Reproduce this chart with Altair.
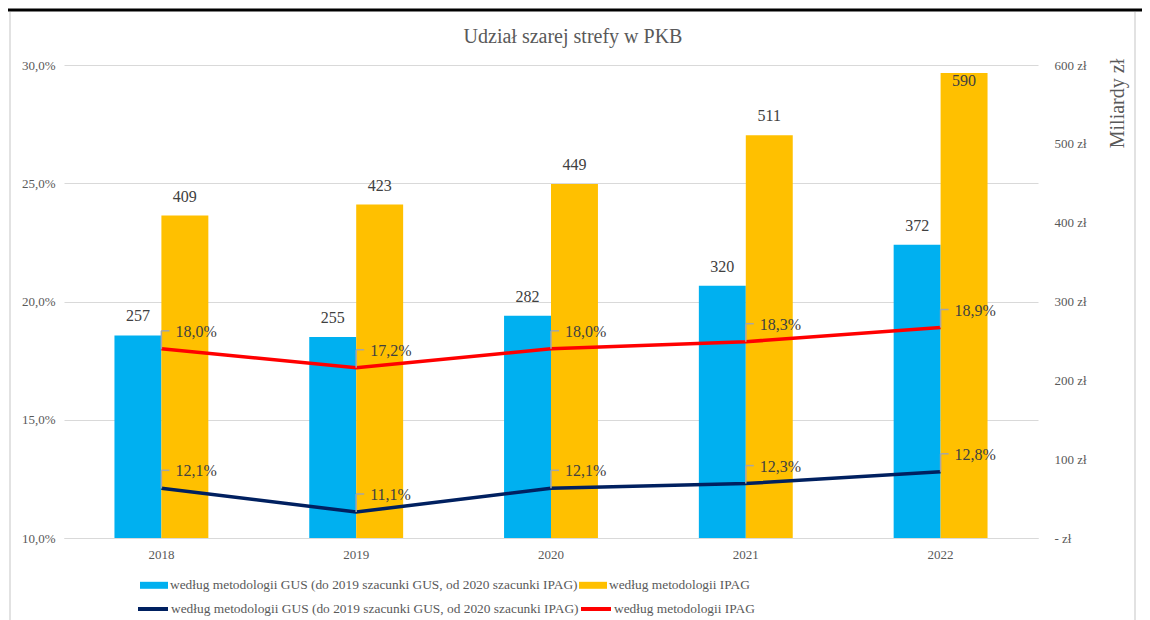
import altair as alt
import pandas as pd

years = ["2018", "2019", "2020", "2021", "2022"]
gus_bn = [257, 255, 282, 320, 372]
ipag_bn = [409, 423, 449, 511, 590]
gus_pct = [12.1, 11.1, 12.1, 12.3, 12.8]
ipag_pct = [18.0, 17.2, 18.0, 18.3, 18.9]

s_gus = "według metodologii GUS (do 2019 szacunki GUS, od 2020 szacunki IPAG)"
s_ipag = "według metodologii IPAG"
series = [s_gus, s_ipag]
bar_colors = ["#00B0F0", "#FFC000"]
line_colors = ["#002060", "#FF0000"]
title_text = "Udział szarej strefy w PKB"

FONT = "Liberation Serif"
GRAY = "#595959"

bars_df = pd.DataFrame(
    [{"year": y, "series": s_gus, "value": v} for y, v in zip(years, gus_bn)]
    + [{"year": y, "series": s_ipag, "value": v} for y, v in zip(years, ipag_bn)]
)
lines_df = pd.DataFrame(
    [{"year": y, "series": s_gus, "pct": v} for y, v in zip(years, gus_pct)]
    + [{"year": y, "series": s_ipag, "pct": v} for y, v in zip(years, ipag_pct)]
)

xscale = alt.Scale(paddingInner=0.518, paddingOuter=0.259)
xenc = alt.X("year:N", scale=xscale, sort=years,
             axis=alt.Axis(title=None, labelAngle=0, labelFont=FONT, labelFontSize=13,
                           labelColor=GRAY, labelPadding=10, ticks=False,
                           domainColor="#d9d9d9", grid=False))

yb = alt.Y("value:Q", scale=alt.Scale(domain=[0, 600], nice=False),
           axis=alt.Axis(orient="right", values=[0, 100, 200, 300, 400, 500, 600],
                         labelExpr="datum.value == 0 ? '- zł' : datum.value + ' zł'",
                         labelFont=FONT, labelFontSize=13, labelColor=GRAY,
                         labelPadding=16, ticks=False, domain=False, grid=False,
                         title="Miliardy zł", titleFont=FONT, titleFontSize=20,
                         titleFontWeight="normal", titleColor=GRAY, titleAngle=270,
                         titleX=79, titleY=38, titleAlign="center", titleBaseline="middle"))

base_b = alt.Chart(bars_df)
bars = base_b.mark_bar().encode(
    x=xenc,
    xOffset=alt.XOffset("series:N", sort=series, scale=alt.Scale(domain=series)),
    y=yb,
    color=alt.Color("series:N", scale=alt.Scale(domain=series, range=bar_colors),
                    legend=alt.Legend(orient="none", legendX=76, legendY=506,
                                      direction="horizontal", columns=2, title=None,
                                      symbolType="M-1,-0.25H1V0.25H-1Z", symbolSize=784,
                                      symbolStrokeWidth=0, labelFont=FONT, labelFontSize=13.4,
                                      labelColor=GRAY, labelLimit=700, columnPadding=1,
                                      labelOffset=2)),
)
bar_lab_common = dict(
    x=alt.X("year:N", sort=years),
    xOffset=alt.XOffset("series:N", sort=series),
    y=alt.Y("value:Q"),
    text=alt.Text("value:Q"),
)
bar_labels = base_b.mark_text(font=FONT, fontSize=16, color="#404040", dy=-19,
                              baseline="middle").encode(**bar_lab_common).transform_filter(
    "datum.value < 560")
bar_labels_in = base_b.mark_text(font=FONT, fontSize=16, color="#404040", dy=8,
                                 baseline="middle").encode(**bar_lab_common).transform_filter(
    "datum.value >= 560")

bar_layer = alt.layer(bars, bar_labels, bar_labels_in)

yl = alt.Y("pct:Q", scale=alt.Scale(domain=[10, 30], nice=False),
           axis=alt.Axis(orient="left", values=[10, 15, 20, 25, 30],
                         labelExpr="replace(format(datum.value, '.1f'), '.', ',') + '%'",
                         labelFont=FONT, labelFontSize=13, labelColor=GRAY,
                         labelPadding=9, ticks=False, domain=False, grid=True,
                         gridColor="#d9d9d9", gridWidth=1, title=None))

base_l = alt.Chart(lines_df)
lines = base_l.mark_line(strokeWidth=3.5).encode(
    x=alt.X("year:N", sort=years),
    y=yl,
    color=alt.Color("series:N", scale=alt.Scale(domain=series, range=line_colors),
                    legend=alt.Legend(orient="none", legendX=72, legendY=527,
                                      direction="horizontal", columns=2, title=None,
                                      symbolType="stroke", symbolSize=900,
                                      symbolStrokeWidth=4, labelFont=FONT, labelFontSize=13.4,
                                      labelColor=GRAY, labelLimit=700, columnPadding=-14,
                                      labelOffset=1)),
)
leader_v = base_l.mark_rule(color="#a6a6a6", strokeWidth=1.5, y2Offset=-18).encode(
    x=alt.X("year:N", sort=years), y=alt.Y("pct:Q"), y2="pct:Q")
leader_h = base_l.mark_rule(color="#a6a6a6", strokeWidth=1.5, x2Offset=8,
                            yOffset=-18, y2Offset=-18).encode(
    x=alt.X("year:N", sort=years), x2="year:N", y=alt.Y("pct:Q"))
line_labels = base_l.mark_text(font=FONT, fontSize=16, color="#404040", align="left",
                               baseline="middle", dx=14, dy=-17).encode(
    x=alt.X("year:N", sort=years), y=alt.Y("pct:Q"),
    text="lbl:N").transform_calculate(lbl="replace(format(datum.pct, '.1f'), '.', ',') + '%'")

line_layer = alt.layer(lines, leader_v, leader_h, line_labels)

frame_df = pd.DataFrame({"k": [0]})
title_mark = alt.Chart(frame_df).mark_text(font=FONT, fontSize=20, color=GRAY,
                                           align="center", baseline="middle").encode(
    x=alt.value(509), y=alt.value(-28), text=alt.value(title_text))
top_border = alt.Chart(frame_df).mark_rule(color="black", strokeWidth=3).encode(
    x=alt.value(-64), x2=alt.value(1086), y=alt.value(-55))
left_gray = alt.Chart(frame_df).mark_rule(color="#d9d9d9", strokeWidth=1.5).encode(
    x=alt.value(-54), y=alt.value(-53), y2=alt.value(560))
right_gray = alt.Chart(frame_df).mark_rule(color="#d9d9d9", strokeWidth=1.5).encode(
    x=alt.value(1071), y=alt.value(-53), y2=alt.value(560))

chart = alt.layer(bar_layer, line_layer, title_mark, top_border, left_gray, right_gray).resolve_scale(
    y="independent", color="independent"
).properties(
    width=974, height=473,
    autosize=alt.AutoSizeParams(type="none"),
    padding={"left": 56, "top": 57, "right": 104, "bottom": 82},
).configure_view(stroke=None)

chart.save("out.html", embed_options={"renderer": "svg", "actions": False})
